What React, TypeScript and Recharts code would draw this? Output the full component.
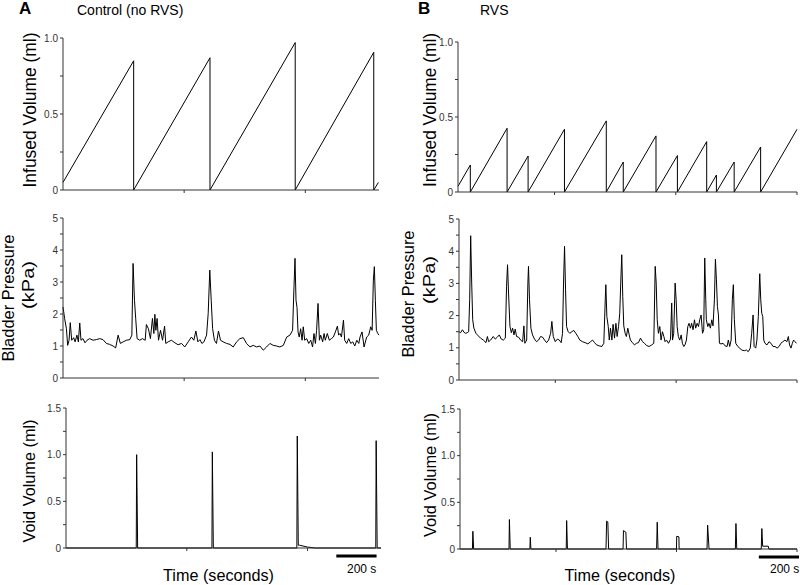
import { Line, LineChart, ReferenceLine, XAxis, YAxis } from "recharts"

const FONT = "Arial, 'Liberation Sans', Helvetica, sans-serif"

// time axes (seconds)
const timeMaxA = 1565
const timeMaxB = 1678
const timeTicksA = [600, 1200]
const timeTicksB = [478, 1078, 1678]

// y axes
const infusedTicks = [0, 0.25, 0.5, 0.75, 1]
const infusedLabels = ["0", "", "0.5", "", "1.0"]
const pressureTicks = [0, 0.5, 1, 1.5, 2, 2.5, 3, 3.5, 4, 4.5, 5]
const pressureLabels = ["0", "", "1", "", "2", "", "3", "", "4", "", "5"]
const voidTicks = [0, 0.25, 0.5, 0.75, 1, 1.25, 1.5]
const voidLabels = ["0", "", "0.5", "", "1.0", "", "1.5"]

// A - control, infused volume (ml)
const infusedA_t = [0, 350, 350, 728, 728, 1150, 1150, 1539, 1539, 1562]
const infusedA_v = [0.05, 0.85, 0, 0.87, 0, 0.97, 0, 0.906, 0, 0.05]

// B - RVS, infused volume (ml)
const infusedB_t = [0, 61, 61, 243, 243, 347, 347, 527, 527, 734, 734, 818, 818, 980, 980, 1086, 1086, 1231, 1231, 1279, 1279, 1367, 1367, 1498, 1498, 1678]
const infusedB_v = [0.038, 0.18, 0, 0.425, 0, 0.24, 0, 0.418, 0, 0.474, 0, 0.2, 0, 0.374, 0, 0.243, 0, 0.336, 0, 0.113, 0, 0.2, 0, 0.3, 0, 0.418]

// A - bladder pressure (kPa)
const pressA_t = [
  0, 8, 17, 23, 30, 36, 43, 53, 60, 69, 76, 83, 89, 99, 109, 119, 132, 149, 165, 182,
  198, 215, 231, 248, 261, 273, 284, 298, 314, 331, 341, 347, 354, 360, 367, 380, 393, 407, 413, 423,
  433, 443, 450, 455, 460, 466, 473, 483, 493, 503, 509, 521, 537, 554, 570, 587, 603, 620, 636, 648,
  658, 668, 678, 688, 698, 711, 719, 727, 734, 741, 750, 760, 770, 780, 793, 810, 827, 843, 860, 876,
  893, 909, 926, 942, 959, 975, 992, 1008, 1025, 1041, 1058, 1074, 1091, 1108, 1124, 1137, 1144, 1149, 1154, 1159,
  1164, 1170, 1177, 1184, 1190, 1197, 1207, 1217, 1227, 1236, 1243, 1250, 1256, 1263, 1270, 1276, 1286, 1293, 1299, 1309,
  1319, 1329, 1339, 1349, 1359, 1365, 1372, 1379, 1389, 1395, 1405, 1415, 1425, 1435, 1445, 1455, 1465, 1471, 1481, 1491,
  1504, 1514, 1524, 1531, 1537, 1542, 1547, 1552, 1559, 1565,
]
const pressA_v = [
  2.22, 1.86, 1.54, 1.02, 1.18, 1.73, 1.18, 1.26, 1.13, 1.34, 1.13, 1.72, 1.18, 1.23, 1.1, 1.18, 1.23, 1.18, 1.2, 1.23,
  1.2, 1.08, 1.05, 1.0, 0.94, 1.34, 1.08, 1.13, 1.18, 1.2, 1.34, 3.58, 2.43, 1.86, 1.23, 1.18, 1.23, 1.18, 1.67, 1.54,
  1.23, 1.86, 1.39, 1.99, 1.49, 1.86, 1.18, 1.49, 1.18, 1.62, 1.08, 1.13, 1.18, 1.1, 1.04, 1.08, 0.97, 1.13, 1.28, 1.18,
  1.47, 1.13, 1.2, 1.08, 1.13, 1.34, 2.01, 3.37, 2.43, 1.54, 1.18, 1.08, 1.47, 1.18, 1.13, 1.08, 1.05, 0.97, 1.13, 1.23,
  1.26, 1.08, 0.97, 1.02, 0.97, 1.0, 0.87, 0.97, 1.08, 1.02, 1.0, 0.97, 1.02, 1.28, 1.34, 1.49, 2.85, 3.74, 2.43, 2.2,
  1.44, 1.28, 1.54, 1.18, 1.6, 1.18, 1.23, 1.08, 1.18, 0.97, 1.39, 1.08, 1.49, 2.33, 1.18, 1.34, 1.13, 1.39, 1.18, 1.39,
  1.18, 1.23, 1.28, 1.44, 1.62, 1.34, 1.39, 1.28, 1.81, 1.18, 1.08, 1.23, 1.08, 1.13, 1.0, 1.18, 1.08, 1.28, 1.44, 0.97,
  1.28, 1.34, 1.6, 1.49, 3.06, 3.48, 2.43, 1.49, 1.39, 1.34,
]

// B - bladder pressure (kPa)
const pressB_t = [
  0, 8, 17, 25, 33, 41, 48, 53, 58, 63, 68, 74, 84, 96, 107, 121, 134, 141, 147, 157,
  170, 180, 190, 200, 210, 220, 230, 236, 241, 246, 253, 260, 266, 273, 279, 286, 296, 306, 316, 322,
  327, 336, 342, 345, 350, 357, 365, 375, 385, 395, 405, 415, 425, 435, 445, 455, 461, 468, 478, 488,
  498, 507, 514, 519, 524, 529, 534, 542, 550, 560, 570, 580, 590, 600, 613, 626, 640, 653, 663, 673,
  683, 696, 709, 719, 726, 729, 734, 741, 746, 752, 759, 765, 772, 779, 785, 792, 798, 803, 808, 813,
  818, 825, 831, 838, 845, 851, 861, 871, 881, 891, 901, 911, 921, 931, 944, 957, 967, 974, 979, 984,
  990, 997, 1003, 1010, 1017, 1023, 1030, 1040, 1050, 1056, 1060, 1066, 1073, 1078, 1083, 1089, 1096, 1103, 1109, 1116,
  1122, 1129, 1136, 1142, 1149, 1155, 1162, 1169, 1175, 1182, 1189, 1195, 1202, 1209, 1215, 1220, 1225, 1228, 1235, 1241,
  1248, 1255, 1261, 1268, 1273, 1278, 1283, 1288, 1293, 1301, 1311, 1321, 1331, 1337, 1344, 1351, 1357, 1362, 1367, 1374,
  1384, 1394, 1403, 1417, 1427, 1436, 1446, 1453, 1460, 1465, 1473, 1479, 1486, 1493, 1498, 1503, 1508, 1513, 1519, 1529,
  1539, 1549, 1559, 1569, 1579, 1589, 1598, 1608, 1618, 1628, 1635, 1641, 1648, 1655, 1661, 1668, 1675,
]
const pressB_v = [
  1.5, 1.47, 1.56, 1.48, 1.45, 1.47, 1.5, 2.49, 4.48, 3.01, 1.87, 1.61, 1.45, 1.37, 1.3, 1.24, 1.16, 1.35, 1.19, 1.24,
  1.35, 1.27, 1.33, 1.4, 1.27, 1.24, 1.3, 2.9, 3.58, 2.7, 1.66, 1.47, 1.61, 1.4, 1.58, 1.35, 1.33, 1.24, 1.19, 1.68,
  1.14, 1.24, 3.01, 3.53, 2.49, 1.61, 1.4, 1.27, 1.19, 1.24, 1.35, 1.33, 1.24, 1.16, 1.24, 1.45, 1.82, 1.35, 1.19, 1.27,
  1.24, 1.16, 1.45, 3.01, 4.15, 2.8, 1.66, 1.5, 1.45, 1.5, 1.54, 1.45, 1.35, 1.24, 1.19, 1.16, 1.12, 1.19, 1.24, 1.16,
  1.09, 1.06, 1.04, 1.14, 2.49, 2.96, 1.97, 1.66, 1.24, 1.61, 1.24, 1.73, 1.3, 1.76, 1.35, 1.66, 2.07, 3.01, 3.89, 2.59,
  1.68, 1.45, 1.35, 1.61, 1.4, 1.24, 1.16, 1.09, 1.14, 1.16, 1.3, 1.19, 1.14, 1.07, 1.04, 1.09, 1.14, 3.53, 3.01, 1.87,
  1.45, 1.66, 1.24, 1.5, 1.35, 1.19, 1.24, 1.14, 1.27, 2.39, 1.24, 1.45, 3.01, 2.49, 1.66, 1.35, 1.24, 1.4, 1.14, 1.04,
  1.09, 1.24, 1.66, 1.76, 1.61, 1.76, 1.56, 1.87, 1.61, 1.76, 1.66, 1.87, 2.02, 1.45, 1.56, 3.79, 2.49, 1.87, 1.66, 1.76,
  1.61, 1.87, 1.68, 2.49, 3.75, 3.11, 2.28, 2.02, 1.14, 1.12, 1.14, 1.06, 1.04, 1.24, 1.04, 1.24, 2.49, 2.96, 1.87, 1.14,
  1.04, 0.99, 0.93, 0.91, 0.93, 0.88, 0.99, 1.45, 2.02, 1.04, 0.99, 1.24, 1.97, 3.3, 2.49, 2.07, 1.97, 1.24, 1.14, 1.09,
  1.19, 1.14, 1.04, 1.04, 0.99, 1.04, 1.14, 1.19, 1.24, 1.19, 1.35, 1.09, 0.99, 1.14, 1.24, 1.19, 1.14,
]

// A - void volume (ml)
const voidA_t = [0, 349, 351, 356, 725, 727, 732, 1147, 1149, 1154, 1160, 1200, 1240, 1539, 1541, 1546, 1565]
const voidA_v = [0, 0, 1.0, 0, 0, 1.03, 0, 0, 1.2, 0.03, 0.03, 0.01, 0, 0, 1.15, 0, 0]

// B - void volume (ml)
const voidB_t = [
  0, 62, 64, 68, 244, 246, 250, 348, 350, 353, 529, 531, 535, 727, 730, 736, 740, 812, 814, 826,
  829, 979, 982, 986, 1078, 1079, 1090, 1091, 1230, 1233, 1240, 1371, 1374, 1378, 1500, 1503, 1507, 1535, 1538, 1678,
]
const voidB_v = [
  0, 0, 0.19, 0, 0, 0.316, 0, 0, 0.126, 0, 0, 0.305, 0, 0, 0.298, 0.29, 0, 0, 0.197, 0.18,
  0, 0, 0.287, 0, 0, 0.136, 0.13, 0, 0, 0.255, 0, 0, 0.273, 0, 0, 0.219, 0.03, 0.03, 0, 0,
]

// 200 s scale bars [start, end, y]
const scaleBarA = [1343, 1543, -0.085]
const scaleBarB = [1488, 1688, -0.085]

const zip = (t: number[], v: number[]) => t.map((x, i) => ({ t: x, v: v[i] }))

type Rect = { x: number; y: number; w: number; h: number }

const Panel = ({
  rect,
  data,
  xMax,
  xTicks,
  yMax,
  yTicks,
  yLabels,
  xh = 10,
  bar,
}: {
  rect: Rect
  data: { t: number; v: number }[]
  xMax: number
  xTicks: number[]
  yMax: number
  yTicks: number[]
  yLabels: string[]
  xh?: number
  bar?: number[]
}) => {
  const yw = 42
  const top = 10
  const right = 12
  return (
    <div style={{ position: "absolute", left: rect.x - yw, top: rect.y - top }}>
      <LineChart
        width={yw + rect.w + right}
        height={top + rect.h + xh}
        data={data}
        margin={{ top, right, bottom: 0, left: 0 }}
      >
        <XAxis
          type="number"
          dataKey="t"
          domain={[0, xMax]}
          ticks={xTicks}
          interval={0}
          tickSize={3}
          tickFormatter={() => ""}
          height={xh}
          stroke="#333"
        />
        <YAxis
          type="number"
          domain={[0, yMax]}
          ticks={yTicks}
          interval={0}
          tickSize={3}
          width={yw}
          stroke="#333"
          tick={{ fontSize: 10, fill: "#333", fontFamily: FONT }}
          tickFormatter={(v: number) => yLabels[yTicks.indexOf(v)] ?? ""}
        />
        <Line
          type="linear"
          dataKey="v"
          stroke="#000"
          strokeWidth={1}
          dot={false}
          isAnimationActive={false}
        />
        {bar && (
          <ReferenceLine
            segment={[
              { x: bar[0], y: bar[2] },
              { x: bar[1], y: bar[2] },
            ]}
            stroke="#000"
            strokeWidth={3}
            ifOverflow="visible"
          />
        )}
      </LineChart>
    </div>
  )
}

const VLabel = ({ x, y, len, size, children }: { x: number; y: number; len: number; size: number; children: string }) => (
  <text
    transform={`translate(${x},${y}) rotate(-90)`}
    textAnchor="middle"
    fontSize={size}
    textLength={len}
    lengthAdjust="spacingAndGlyphs"
  >
    {children}
  </text>
)

const App = () => {
  return (
    <div style={{ position: "absolute", left: 0, top: 0, width: 800, height: 585, background: "#fff", overflow: "hidden" }}>
      <Panel rect={{ x: 63, y: 38, w: 316, h: 152 }} data={zip(infusedA_t, infusedA_v)} xMax={timeMaxA} xTicks={timeTicksA} yMax={1} yTicks={infusedTicks} yLabels={infusedLabels} />
      <Panel rect={{ x: 63, y: 218, w: 316, h: 160 }} data={zip(pressA_t, pressA_v)} xMax={timeMaxA} xTicks={timeTicksA} yMax={5} yTicks={pressureTicks} yLabels={pressureLabels} />
      <Panel rect={{ x: 66, y: 408, w: 315, h: 140 }} data={zip(voidA_t, voidA_v)} xMax={timeMaxA} xTicks={timeTicksA} yMax={1.5} yTicks={voidTicks} yLabels={voidLabels} xh={16} bar={scaleBarA} />

      <Panel rect={{ x: 458, y: 42, w: 339, h: 150 }} data={zip(infusedB_t, infusedB_v)} xMax={timeMaxB} xTicks={timeTicksB} yMax={1} yTicks={infusedTicks} yLabels={infusedLabels} />
      <Panel rect={{ x: 459, y: 219, w: 338, h: 161 }} data={zip(pressB_t, pressB_v)} xMax={timeMaxB} xTicks={timeTicksB} yMax={5} yTicks={pressureTicks} yLabels={pressureLabels} />
      <Panel rect={{ x: 460, y: 409, w: 337, h: 140 }} data={zip(voidB_t, voidB_v)} xMax={timeMaxB} xTicks={timeTicksB} yMax={1.5} yTicks={voidTicks} yLabels={voidLabels} xh={16} bar={scaleBarB} />

      <svg width={800} height={585} style={{ position: "absolute", left: 0, top: 0, pointerEvents: "none", fontFamily: FONT }}>
        <g fill="#000">
          <text x={19} y={14} fontSize={17} fontWeight="bold">A</text>
          <text x={77} y={15} fontSize={14}>Control (no RVS)</text>
          <text x={418} y={14} fontSize={17} fontWeight="bold">B</text>
          <text x={480} y={15} fontSize={14}>RVS</text>

          <VLabel x={35.5} y={110} len={155} size={17.5}>Infused Volume (ml)</VLabel>
          <VLabel x={13.5} y={298} len={127} size={17}>Bladder Pressure</VLabel>
          <VLabel x={33.5} y={285} len={48} size={17}>(kPa)</VLabel>
          <VLabel x={35} y={481} len={123} size={16.5}>Void Volume (ml)</VLabel>

          <VLabel x={436} y={110} len={154} size={17.5}>Infused Volume (ml)</VLabel>
          <VLabel x={414} y={294} len={127} size={17}>Bladder Pressure</VLabel>
          <VLabel x={435} y={280} len={48} size={17}>(kPa)</VLabel>
          <VLabel x={436} y={475} len={124} size={16.5}>Void Volume (ml)</VLabel>

          <text x={218.5} y={581} fontSize={16.5} textAnchor="middle" textLength={111} lengthAdjust="spacingAndGlyphs">Time (seconds)</text>
          <text x={620} y={581} fontSize={16.5} textAnchor="middle" textLength={111} lengthAdjust="spacingAndGlyphs">Time (seconds)</text>
          <text x={347} y={573} fontSize={12}>200 s</text>
          <text x={770} y={573} fontSize={12}>200 s</text>
        </g>
      </svg>
    </div>
  )
}

export default App
